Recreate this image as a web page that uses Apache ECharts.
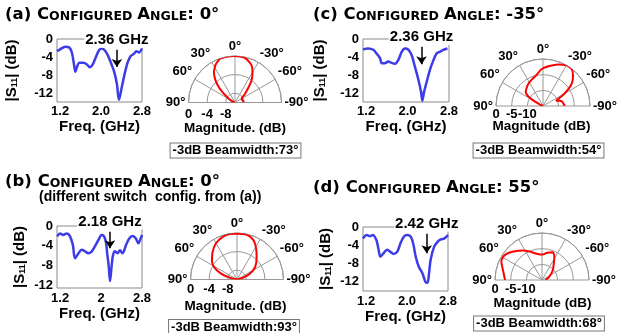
<!DOCTYPE html>
<html>
<head>
<meta charset="utf-8">
<script src="https://cdn.jsdelivr.net/npm/echarts@6/dist/echarts.min.js"></script>
<style>
  html, body { margin: 0; padding: 0; background: #fff; }
  #chart { width: 632px; height: 333px; }
</style>
</head>
<body>
<div id="chart"></div>
<script>
// |S11| sweeps, frequency in GHz, magnitude in dB
const freqA = [1.14, 1.2, 1.3, 1.38, 1.43, 1.47, 1.5, 1.53, 1.58, 1.65, 1.72, 1.78, 1.84, 1.9, 1.96, 2.02, 2.08, 2.14, 2.2, 2.26, 2.31, 2.35, 2.4, 2.46, 2.52, 2.58, 2.64, 2.69, 2.74, 2.8];
const s11A  = [-2.7, -2.3, -1.7, -1.9, -3.0, -5.5, -7.3, -6.2, -5.3, -5.3, -5.6, -6.3, -5.6, -4.0, -2.5, -2.1, -2.6, -3.8, -5.5, -7.4, -10, -13.5, -11, -7.8, -5.2, -3.8, -3.3, -2.7, -3.0, -2.1];
const freqB = [1.145, 1.2, 1.26, 1.33, 1.39, 1.45, 1.49, 1.56, 1.62, 1.69, 1.75, 1.82, 1.88, 1.95, 2.01, 2.06, 2.1, 2.12, 2.15, 2.175, 2.2, 2.23, 2.27, 2.32, 2.37, 2.42, 2.49, 2.55, 2.62, 2.68, 2.73, 2.76, 2.8];
const s11B  = [-2.1, -1.5, -1.8, -1.5, -2.0, -3.8, -6.5, -5.5, -4.8, -5.1, -5.5, -5.1, -4.1, -2.8, -1.8, -2.1, -3.5, -5.5, -8.1, -11.1, -8.8, -6.1, -5.1, -5.5, -4.9, -5.5, -3.8, -2.5, -2.0, -2.5, -3.5, -2.9, -1.8];
const freqC = [1.14, 1.24, 1.34, 1.4, 1.47, 1.5, 1.56, 1.63, 1.69, 1.76, 1.82, 1.89, 1.95, 2.01, 2.08, 2.14, 2.21, 2.26, 2.285, 2.32, 2.37, 2.43, 2.5, 2.56, 2.63, 2.69, 2.77];
const s11C  = [-2.3, -2.1, -2.4, -3.2, -4.3, -5.4, -5.4, -5.0, -5.3, -5.5, -4.7, -2.8, -2.1, -2.3, -3.6, -6.1, -9.1, -11.7, -13.7, -11.7, -9.5, -6.9, -4.7, -3.2, -2.8, -2.4, -2.1];
const freqD = [1.14, 1.21, 1.28, 1.33, 1.4, 1.44, 1.48, 1.54, 1.61, 1.67, 1.74, 1.81, 1.87, 1.94, 2.0, 2.07, 2.12, 2.17, 2.23, 2.3, 2.36, 2.4, 2.43, 2.46, 2.53, 2.6, 2.66, 2.73, 2.8];
const s11D  = [-2.5, -1.75, -2.0, -1.75, -2.8, -4.7, -6.5, -5.75, -5.0, -5.4, -5.9, -5.4, -3.6, -2.1, -1.75, -2.1, -3.6, -6.5, -8.7, -10.1, -12.0, -12.2, -10.1, -7.2, -4.3, -3.2, -2.7, -2.5, -1.75];

// radiation patterns: angle in degrees (positive toward the left), magnitude in dB
const angA = [90, 70, 60, 54, 50, 45, 40, 35, 30, 27, 22, 18, 12, 6, 0, -6, -13, -21, -26, -30, -34, -38, -44, -50, -56, -65, -75, -90];
const magA = [-10, -9.5, -8.6, -7.7, -6.3, -4.7, -3.3, -2.1, -1.3, -0.84, -0.35, 0, 0, 0, 0, -0.05, -0.2, -0.9, -1.6, -2.5, -3.4, -4.4, -6.2, -7.3, -8.2, -8.4, -8.3, -8.1];
const angB = [90, 75.6, 70, 61.8, 53.5, 42.6, 30.2, 18.5, 9.3, 0, -11.9, -22.4, -31.2, -42, -55.9, -65.9, -72.6, -90];
const magB = [-10, -8.35, -6.35, -4.45, -3.3, -2.2, -1.0, -0.33, -0.1, -0.14, -0.13, -0.8, -2.1, -3.7, -5.3, -7.0, -8.6, -10];
const angC = [90, 63, 58, 50, 37, 30, 20, 12, 2, -9, -20, -30, -38, -44, -51, -56, -61, -65, -68, -72, -76, -82, -90];
const magC = [-15, -13.4, -9.9, -7.8, -6.8, -6.3, -5.6, -4.9, -3.2, -2.1, -0.9, 0, -0.1, -1.2, -3.0, -5.1, -7.6, -9.5, -10.5, -9.5, -8.8, -8.5, -8.0];
const angD = [90, 76.6, 65.5, 59.2, 53.4, 44.9, 33.5, 23.5, 11.4, 0, -11, -20.9, -28, -37, -48.9, -66, -90];
const magD = [-3.2, -2.25, -0.75, -0.55, -0.95, -2.2, -3.75, -5.1, -6.45, -6.9, -6.15, -5.5, -6.6, -8.8, -10.5, -12.5, -13.9];

const panelLabels = ['(a)', '(b)', '(c)', '(d)'];
const configAngles = ['0', '0', '-35', '55'];
const markerText = ['2.36 GHz', '2.18 GHz', '2.36 GHz', '2.42 GHz'];
const markerFreq = [2.31, 2.175, 2.27, 2.385];
const markerTop = [-2.4, -1.15, -1.7, -1.5];
const markerTip = [-6.2, -4.5, -5.6, -5.75];
const beamwidths = [73, 93, 54, 68];
const magNames = ['Magnitude. (dB)', 'Magnitude. (dB)', 'Magnitude (dB)', 'Magnitude (dB)'];
const freqTicks = [1.2, 2.0, 2.8];
const s11Ticks = [0, -4, -8, -12];
const ringTicksAB = [0, -4, -8];
const ringTicksCD = [0, -5, -10];

const FONT = 'Arial, "Liberation Sans", sans-serif';
const txt = { color: '#000', fontFamily: FONT, fontWeight: 'bold' };
const gridGrey = '#999';

const panels = [
  { f: freqA, s: s11A, ang: angA, mag: magA, yMin: -14, rMin: -10, rTicks: ringTicksAB, fmt: v => v.toFixed(1),
    grid: { left: 57, top: 39, width: 85, height: 63 }, yNameGap: 38, xNameGap: 8, xMargin: 3,
    center: [235, 102.5], radius: 46.5, rMargin: 5, titlePos: [5, 4], magPos: [235, 128], bwPos: [235.5, 150.5] },
  { f: freqB, s: s11B, ang: angB, mag: magB, yMin: -12.5, rMin: -10, rTicks: ringTicksAB, fmt: v => String(v),
    grid: { left: 57, top: 226, width: 85, height: 62 }, yNameGap: 30, xNameGap: 12, xMargin: 4,
    center: [237, 279.5], radius: 46.5, rMargin: 3, titlePos: [5, 171], magPos: [235.5, 306.5], bwPos: [234, 327] },
  { f: freqC, s: s11C, ang: angC, mag: magC, yMin: -14, rMin: -15, rTicks: ringTicksCD, fmt: v => v.toFixed(1),
    grid: { left: 363, top: 39, width: 86, height: 63 }, yNameGap: 36, xNameGap: 8, xMargin: 3,
    center: [543, 106], radius: 47, rMargin: 2, titlePos: [313, 4], magPos: [541.5, 126.5], bwPos: [538.5, 150.5] },
  { f: freqD, s: s11D, ang: angD, mag: magD, yMin: -14, rMin: -15, rTicks: ringTicksCD, fmt: v => v.toFixed(1),
    grid: { left: 363, top: 227, width: 85, height: 64 }, yNameGap: 30, xNameGap: 11, xMargin: 4,
    center: [542, 280], radius: 47, rMargin: 3, titlePos: [313, 177], magPos: [542.5, 303.5], bwPos: [539, 323.5] }
];

const grid = [], xAxis = [], yAxis = [], polar = [], angleAxis = [], radiusAxis = [];
const series = [], title = [], graphic = [];

panels.forEach((p, i) => {
  grid.push({ ...p.grid, show: true, borderColor: '#8a8a8a', borderWidth: 1, backgroundColor: '#fff' });

  xAxis.push({
    gridIndex: i, type: 'value', min: 1.14, max: 2.8,
    axisLine: { show: false }, axisTick: { show: false }, splitLine: { show: false },
    axisLabel: { ...txt, fontSize: 13, margin: p.xMargin, customValues: freqTicks, formatter: p.fmt },
    name: 'Freq. (GHz)', nameLocation: 'middle', nameGap: p.xNameGap,
    nameTextStyle: { ...txt, fontSize: 15 }
  });

  yAxis.push({
    gridIndex: i, type: 'value', min: p.yMin, max: 0,
    axisLine: { show: false }, axisTick: { show: false }, splitLine: { show: false },
    axisLabel: { ...txt, fontSize: 13, margin: 4, customValues: s11Ticks },
    name: '|S{sub|11}| (dB)', nameLocation: 'middle', nameGap: p.yNameGap, nameRotate: 90,
    nameTextStyle: { ...txt, fontSize: 15, rich: { sub: { ...txt, fontSize: 9, padding: [6, 0, 0, 0] } } }
  });

  series.push({
    type: 'line', xAxisIndex: i, yAxisIndex: i,
    data: p.f.map((x, j) => [x, p.s[j]]),
    smooth: 0.3, showSymbol: false,
    lineStyle: { color: '#3c3ce8', width: 2.5 },
    z: 3,
    markLine: {
      silent: true, symbol: ['none', 'arrow'], symbolSize: 8,
      lineStyle: { color: '#000', width: 1.5, type: 'solid' },
      label: { show: true, position: 'start', distance: 2, formatter: markerText[i],
        ...txt, fontSize: 15, backgroundColor: '#fff', padding: [0, 1] },
      data: [[{ coord: [markerFreq[i], markerTop[i]] }, { coord: [markerFreq[i], markerTip[i]] }]]
    }
  });

  polar.push({ center: p.center, radius: p.radius });

  angleAxis.push({
    polarIndex: i, type: 'value', min: -90, max: 90, interval: 30,
    startAngle: 180, endAngle: 0,
    axisLine: { lineStyle: { color: gridGrey, width: 1 } },
    axisTick: { show: false },
    axisLabel: { ...txt, fontSize: 13, margin: 3, formatter: v => (-v) + '°' },
    splitLine: { show: true, lineStyle: { color: gridGrey, width: 1 } }
  });

  radiusAxis.push({
    polarIndex: i, type: 'value', min: p.rMin, max: 0,
    axisLine: { show: false },
    axisTick: { show: false, customValues: p.rTicks },
    axisLabel: { ...txt, fontSize: 13, margin: p.rMargin, customValues: p.rTicks },
    splitLine: { show: true, lineStyle: { color: gridGrey, width: 1 } }
  });

  series.push({
    type: 'line', coordinateSystem: 'polar', polarIndex: i,
    data: p.ang.map((a, j) => [p.mag[j], -a]),
    smooth: 0.3, showSymbol: false,
    lineStyle: { color: '#f00', width: 2 },
    z: 4
  });

  title.push({
    left: p.titlePos[0], top: p.titlePos[1], padding: 0,
    text: `{b|${panelLabels[i]} C}{s|ONFIGURED} {b|A}{s|NGLE}{b|: ${configAngles[i]}°}`,
    textStyle: {
      rich: {
        b: { color: '#000', fontFamily: 'DejaVu Sans', fontWeight: 'bold', fontSize: 16.5, verticalAlign: 'bottom', lineHeight: 19 },
        s: { color: '#000', fontFamily: 'DejaVu Sans', fontWeight: 'bold', fontSize: 12.5, verticalAlign: 'bottom', lineHeight: 19 }
      }
    }
  });

  graphic.push({
    type: 'text', x: p.magPos[0], y: p.magPos[1],
    style: { text: magNames[i], font: 'bold 13.5px ' + FONT, fill: '#000', align: 'center', verticalAlign: 'middle' }
  });
  graphic.push({
    type: 'text', x: p.bwPos[0], y: p.bwPos[1],
    style: { text: '-3dB Beamwidth:' + beamwidths[i] + '°', font: 'bold 13px ' + FONT, fill: '#000',
      align: 'center', verticalAlign: 'middle', backgroundColor: '#fff',
      borderColor: '#777', borderWidth: 1, padding: [1, 2, 0, 2] }
  });
});

graphic.push({
  type: 'text', x: 39, y: 197,
  style: { text: '(different switch  config. from (a))', font: 'bold 14px ' + FONT, fill: '#000', align: 'left', verticalAlign: 'middle' }
});

const chart = echarts.init(document.getElementById('chart'));
chart.setOption({
  animation: false,
  backgroundColor: '#fff',
  title, grid, xAxis, yAxis, polar, angleAxis, radiusAxis, series, graphic
});
</script>
</body>
</html>
